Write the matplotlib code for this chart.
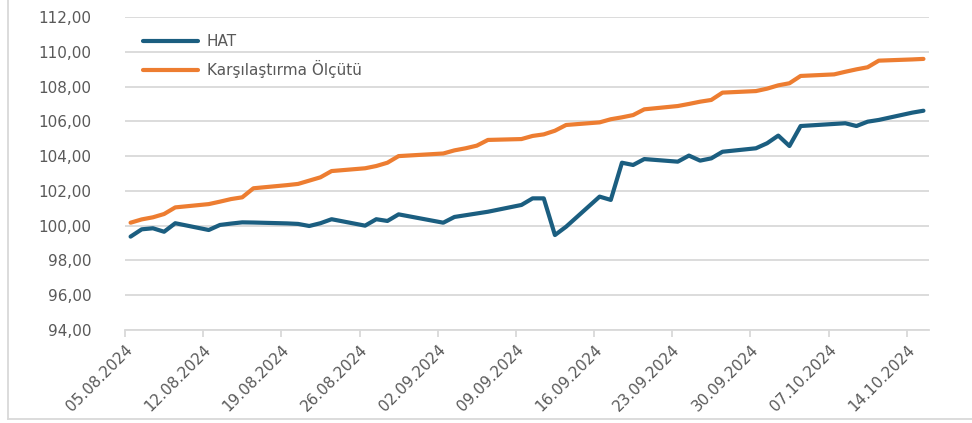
import numpy as np
import pandas as pd
import matplotlib
matplotlib.use("Agg")
import matplotlib.pyplot as plt
import matplotlib.dates as mdates
from matplotlib.ticker import FuncFormatter, MultipleLocator

# trading days, 30.08.2024 is a holiday
dates = pd.bdate_range("2024-08-05", "2024-10-15")
dates = dates[dates != pd.Timestamp("2024-08-30")]

hat = [99.37, 99.79, 99.85, 99.65, 100.14, 99.75, 100.04, 100.12, 100.19, 100.18,
       100.13, 100.10, 99.98, 100.14, 100.37, 100.00, 100.37, 100.27, 100.65,
       100.17, 100.50, 100.60, 100.70, 100.80, 101.19, 101.57, 101.57, 99.46, 99.94,
       101.67, 101.48, 103.62, 103.49, 103.83, 103.68, 104.03, 103.74, 103.87, 104.25,
       104.45,
       104.74, 105.18, 104.58, 105.73, 105.85, 105.89, 105.73, 105.98, 106.08, 106.50,
       106.61]

benchmark = [100.17, 100.36, 100.48, 100.67, 101.05, 101.24, 101.38, 101.53, 101.63,
             102.15, 102.33, 102.40, 102.59, 102.78, 103.14, 103.30, 103.43, 103.62,
             104.00,
             104.15, 104.33, 104.45, 104.60, 104.93, 104.98, 105.16, 105.25, 105.46,
             105.79, 105.94, 106.12, 106.23, 106.36, 106.69, 106.88, 107.00, 107.13,
             107.23, 107.65, 107.74,
             107.88, 108.07, 108.19, 108.61, 108.70, 108.85, 108.99, 109.11, 109.49,
             109.56, 109.59]

tick_dates = pd.date_range("2024-08-05", "2024-10-14", freq="7D")

text_color = "#595959"
grid_color = "#d9d9d9"
font = "DejaVu Sans"

fig = plt.figure(figsize=(9.72, 4.23), dpi=100)
ax = fig.add_axes([0.1286, 0.2199, 0.8272, 0.7399])

# Excel puts each point in the middle of its day
x = dates + pd.Timedelta(hours=12)
ax.plot(x, hat, color="#1b5e80", lw=3, solid_capstyle="round", label="HAT")
ax.plot(x, benchmark, color="#ed7d31", lw=3, solid_capstyle="round",
        label="Karşılaştırma Ölçütü")

ax.set_ylim(94, 112)
ax.set_xlim(pd.Timestamp("2024-08-05"), pd.Timestamp("2024-10-16"))
ax.yaxis.set_major_locator(MultipleLocator(2))
ax.yaxis.set_major_formatter(FuncFormatter(lambda v, p: f"{v:.2f}".replace(".", ",")))
ax.grid(axis="y", color=grid_color, lw=1.3)
ax.set_axisbelow(True)

ax.set_xticks(tick_dates)
ax.set_xticklabels([d.strftime("%d.%m.%Y") for d in tick_dates], rotation=45,
                   ha="right", rotation_mode="anchor", fontsize=11,
                   color=text_color, family=font)
for lab in ax.get_yticklabels():
    lab.set_fontsize(11)
    lab.set_color(text_color)
    lab.set_family(font)

for s in ["top", "right", "left"]:
    ax.spines[s].set_visible(False)
ax.spines["bottom"].set_color(grid_color)
ax.spines["bottom"].set_linewidth(1.3)
ax.tick_params(axis="y", length=0, pad=24)
ax.tick_params(axis="x", length=5, color=grid_color, width=1.3, pad=4)

leg = ax.legend(loc="upper left", bbox_to_anchor=(0.005, 0.99), frameon=False,
                handlelength=3.6, handletextpad=0.6, labelspacing=0.75,
                prop={"family": font, "size": 11})
for t in leg.get_texts():
    t.set_color(text_color)

# light frame around the chart
fig.add_artist(plt.Line2D([8 / 972, 8 / 972], [4 / 423, 1], color=grid_color,
                          lw=1.3, transform=fig.transFigure))
fig.add_artist(plt.Line2D([8 / 972, 1], [4 / 423, 4 / 423], color=grid_color,
                          lw=1.3, transform=fig.transFigure))

fig.savefig("out.png", dpi=100)
plt.close(fig)
